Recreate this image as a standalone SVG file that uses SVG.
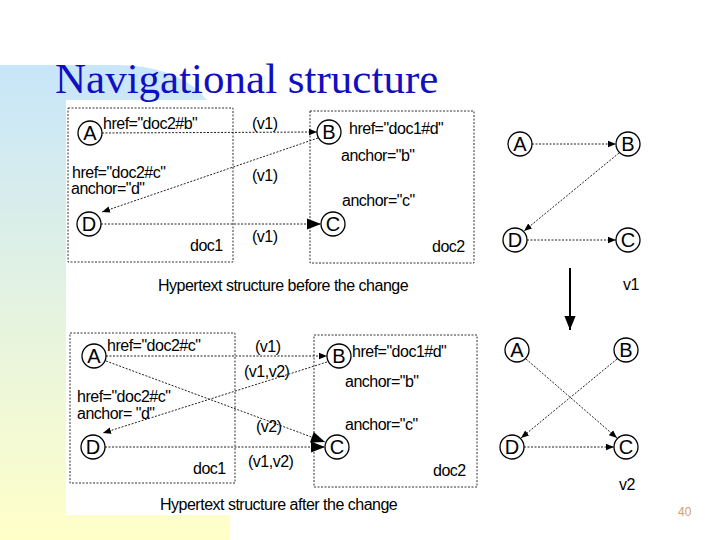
<svg xmlns="http://www.w3.org/2000/svg" width="720" height="540" viewBox="0 0 720 540">
<defs>
<linearGradient id="bg" x1="0" y1="0" x2="0" y2="1"><stop offset="0" stop-color="#c8e6fa"/><stop offset="1" stop-color="#ffffc8"/></linearGradient>
<marker id="s" viewBox="0 0 10 10" refX="10" refY="5" markerWidth="8" markerHeight="8" markerUnits="userSpaceOnUse" orient="auto"><path d="M0,1 L10,5 L0,9 Z" fill="#000"/></marker>
<marker id="b" viewBox="0 0 10 10" refX="10" refY="5" markerWidth="16" markerHeight="14" markerUnits="userSpaceOnUse" orient="auto"><path d="M0,1 L10,5 L0,9 Z" fill="#000"/></marker>
<style>
.t{font-family:"Liberation Sans",Arial,sans-serif;font-size:16px;fill:#000;letter-spacing:-0.5px}
.box{fill:none;stroke:#333;stroke-width:1;stroke-dasharray:2 1.5}
.n circle{fill:#fff;stroke:#000;stroke-width:1.3}
.n text{font-family:"Liberation Sans",Arial,sans-serif;font-size:20px;text-anchor:middle}
.e{fill:none;stroke:#222;stroke-width:1;stroke-dasharray:2 1.5}
</style>
</defs>
<path d="M0,65 H115 Q230,65 230,180 V540 H0 Z" fill="url(#bg)"/>
<rect x="66" y="100" width="654" height="415" fill="#fff"/>
<text x="55" y="93" font-family="Liberation Serif,serif" font-size="43" fill="#1010c0">Navigational structure</text>
<text x="678" y="516" font-family="Liberation Sans,sans-serif" font-size="12" fill="#d0a070">40</text>

<rect class="box" x="68" y="108" width="165" height="154"/>
<rect class="box" x="310" y="111" width="164" height="152"/>
<rect class="box" x="70" y="333" width="165" height="150"/>
<rect class="box" x="314" y="335" width="163" height="152"/>

<g id="connectors">
<line class="e" x1="102" y1="133" x2="317" y2="132" marker-end="url(#s)"/>
<line class="e" x1="318" y1="138" x2="102" y2="212" marker-end="url(#s)"/>
<line class="e" x1="101" y1="224" x2="321" y2="224" marker-end="url(#b)"/>
<line class="e" x1="532" y1="144" x2="616" y2="144" marker-end="url(#s)"/>
<line class="e" x1="619" y1="153" x2="524" y2="231" marker-end="url(#s)"/>
<line class="e" x1="527" y1="240" x2="616" y2="240" marker-end="url(#s)"/>
<line x1="570" y1="268" x2="570" y2="330" stroke="#000" stroke-width="2" marker-end="url(#b)"/>
<line class="e" x1="106" y1="356" x2="327" y2="356" marker-end="url(#s)"/>
<line class="e" x1="106" y1="361" x2="325" y2="442" marker-end="url(#b)"/>
<line class="e" x1="327" y1="362" x2="103" y2="433" marker-end="url(#s)"/>
<line class="e" x1="105" y1="447" x2="325" y2="447" marker-end="url(#b)"/>
<line class="e" x1="526" y1="359" x2="617" y2="438" marker-end="url(#s)"/>
<line class="e" x1="617" y1="359" x2="521" y2="438" marker-end="url(#s)"/>
<line class="e" x1="524" y1="447" x2="614" y2="447" marker-end="url(#s)"/>
</g>

<g id="t-A" class="n"><circle cx="90" cy="133" r="12"/><text x="90" y="140">A</text></g>
<g id="t-B" class="n"><circle cx="329" cy="132" r="12"/><text x="329" y="139">B</text></g>
<g id="t-D" class="n"><circle cx="89" cy="224" r="12"/><text x="89" y="231">D</text></g>
<g id="t-C" class="n"><circle cx="333" cy="224" r="12"/><text x="333" y="231">C</text></g>
<g id="r1-A" class="n"><circle cx="520" cy="144" r="12"/><text x="520" y="151">A</text></g>
<g id="r1-B" class="n"><circle cx="628" cy="144" r="12"/><text x="628" y="151">B</text></g>
<g id="r1-D" class="n"><circle cx="515" cy="240" r="12"/><text x="515" y="247">D</text></g>
<g id="r1-C" class="n"><circle cx="628" cy="240" r="12"/><text x="628" y="247">C</text></g>
<g id="b-A" class="n"><circle cx="94" cy="356" r="12"/><text x="94" y="363">A</text></g>
<g id="b-B" class="n"><circle cx="339" cy="356" r="12"/><text x="339" y="363">B</text></g>
<g id="b-D" class="n"><circle cx="93" cy="447" r="12"/><text x="93" y="454">D</text></g>
<g id="b-C" class="n"><circle cx="337" cy="447" r="12"/><text x="337" y="454">C</text></g>
<g id="r2-A" class="n"><circle cx="517" cy="350" r="12"/><text x="517" y="357">A</text></g>
<g id="r2-B" class="n"><circle cx="626" cy="350" r="12"/><text x="626" y="357">B</text></g>
<g id="r2-D" class="n"><circle cx="512" cy="447" r="12"/><text x="512" y="454">D</text></g>
<g id="r2-C" class="n"><circle cx="626" cy="447" r="12"/><text x="626" y="454">C</text></g>

<g id="labels">
<text class="t" x="103" y="129">href="doc2#b"</text>
<text class="t" x="252" y="129">(v1)</text>
<text class="t" x="349" y="134">href="doc1#d"</text>
<text class="t" x="341" y="161">anchor="b"</text>
<text class="t" x="72" y="178">href="doc2#c"</text>
<text class="t" x="71" y="194">anchor="d"</text>
<text class="t" x="252" y="181">(v1)</text>
<text class="t" x="342" y="206">anchor="c"</text>
<text class="t" x="252" y="242">(v1)</text>
<text class="t" x="190" y="251">doc1</text>
<text class="t" x="432" y="252">doc2</text>
<text class="t" x="158" y="291">Hypertext structure before the change</text>
<text class="t" x="623" y="290" font-size="17">v1</text>
<text class="t" x="107" y="351">href="doc2#c"</text>
<text class="t" x="255" y="352">(v1)</text>
<text class="t" x="352" y="357">href="doc1#d"</text>
<text class="t" x="244" y="377">(v1,v2)</text>
<text class="t" x="345" y="387">anchor="b"</text>
<text class="t" x="77" y="402">href="doc2#c"</text>
<text class="t" x="77" y="419">anchor= "d"</text>
<text class="t" x="256" y="432">(v2)</text>
<text class="t" x="345" y="430">anchor="c"</text>
<text class="t" x="248" y="467">(v1,v2)</text>
<text class="t" x="193" y="474">doc1</text>
<text class="t" x="433" y="476">doc2</text>
<text class="t" x="160" y="510">Hypertext structure after the change</text>
<text class="t" x="619" y="490" font-size="17">v2</text>
</g>
</svg>
